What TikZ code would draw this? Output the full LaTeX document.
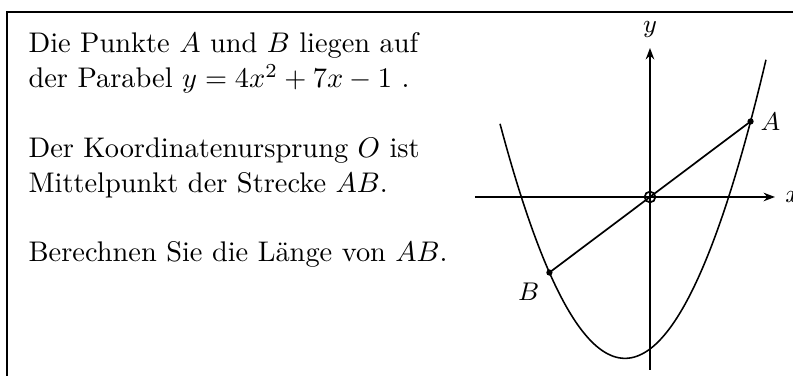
\documentclass[tikz,border=0pt]{standalone}
\usepackage{amsmath,amssymb}
\usepackage{tikz}
\usetikzlibrary{arrows.meta}

\begin{document}
\begin{tikzpicture}[scale=1]

\useasboundingbox (-8.045,-2.215) rectangle (1.770,2.438);

% Frame (only left and top edge visible)
\draw[line width=0.8pt] (-7.958,-2.4) |- (1.9,2.290);

% Task text (anchored at the baseline of its last line)
\node[anchor=base west, align=left, inner sep=0,
      font=\fontsize{10pt}{12.3pt}\selectfont] (task) at (-7.698,-0.804)
  {Die Punkte $A$ und $B$ liegen auf\\
   der Parabel $y=4x^2+7x-1$ .\\[12.3pt]
   Der Koordinatenursprung $O$ ist\\
   Mittelpunkt der Strecke $AB$.\\[12.3pt]
   Berechnen Sie die L\"ange von $AB$.};

% Axes
\draw[line width=0.65pt,-{Stealth[length=4pt,width=3pt]}] (-2.166,0) -- (1.547,0)
  node[right] (labx) {\small $x$};
\draw[line width=0.65pt,-{Stealth[length=4pt,width=3pt]}] (0,-2.141) -- (0,1.844)
  node[above] (laby) {\small $y$};

% Parabola (schematic)
\draw[line width=0.55pt, domain=-1.856:1.436, samples=100, smooth]
  plot (\x, {1.2136*\x*\x+0.751*\x-1.881});

% Points A, B and origin O
\coordinate (O) at (0,0);
\coordinate (A) at (1.245,0.935);
\coordinate (B) at (-1.245,-0.935);
\draw[line width=0.6pt] (A) -- (B);
\fill (A) circle (1.1pt);
\fill (B) circle (1.1pt);
\draw[line width=0.6pt] (O) circle (1.9pt);

% Labels
\node[right] (labA) at (A) {\small $A$};
\node[below left] (labB) at (B) {\small $B$};

\end{tikzpicture}
\end{document}
